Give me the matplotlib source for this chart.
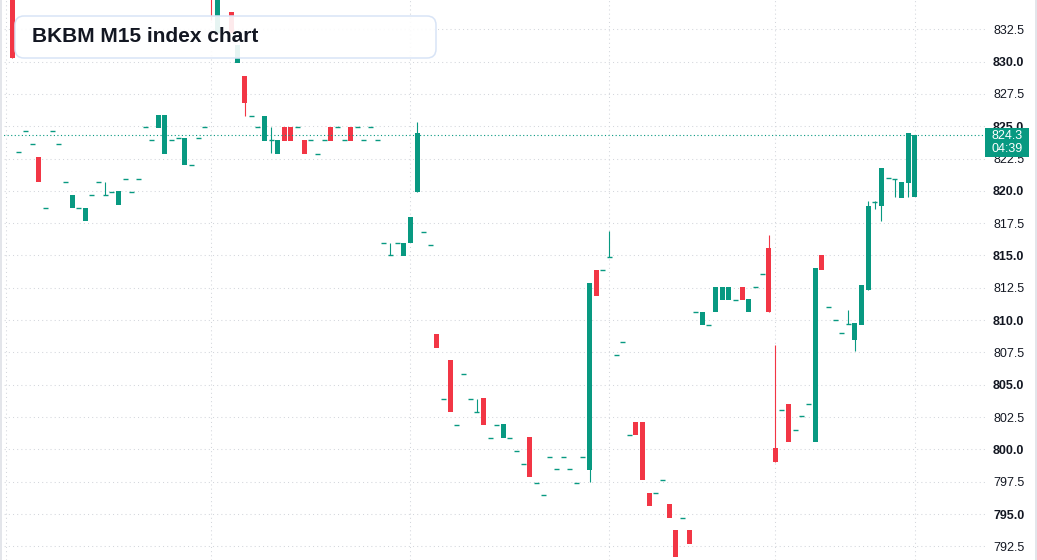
import matplotlib as mpl
mpl.use('Agg')
import matplotlib.pyplot as plt
import numpy as np
from matplotlib.patches import FancyBboxPatch, Rectangle
from matplotlib.transforms import IdentityTransform

# BKBM M15 candles (index 0 = leftmost bar)
opens = [836.0, 823.0, 824.65, 823.65, 822.65, 818.7, 824.65, 823.65, 820.7, 818.65,
         818.7, 817.65, 819.7, 820.7, 819.7, 819.9, 818.9, 820.95, 819.9, 820.95,
         824.9, 823.9, 824.85, 822.85, 823.9, 824.05, 822.0, 822.0, 824.05, 824.95,
         836.5, 832.2, 837.5, 833.8, 829.85, 828.85, 825.8, 824.9, 823.85, 823.9,
         822.85, 824.9, 824.9, 824.9, 823.9, 823.9, 822.85, 823.9, 824.9, 824.9,
         823.9, 824.9, 824.9, 823.9, 824.9, 823.9, 816.0, 815.0, 816.0, 814.95,
         815.95, 819.9, 816.85, 815.85, 808.9, 803.9, 806.9, 801.9, 805.85, 803.9,
         802.9, 803.95, 800.9, 801.9, 800.85, 800.9, 799.9, 798.9, 800.95, 797.4,
         796.5, 799.45, 798.45, 799.45, 798.45, 797.4, 799.45, 798.4, 813.9, 813.9,
         814.9, 807.3, 808.3, 801.15, 802.15, 802.15, 796.65, 796.65, 797.65, 795.75,
         793.75, 794.7, 793.75, 810.65, 809.6, 809.65, 810.6, 811.55, 811.55, 811.55,
         812.6, 810.6, 812.6, 813.6, 815.6, 800.15, 803.05, 803.55, 801.5, 802.55,
         803.55, 800.55, 815.0, 811.05, 810.05, 809.0, 809.7, 808.5, 809.6, 812.35,
         819.15, 818.8, 821.0, 820.95, 819.45, 820.6, 819.5]
closes = [830.3, 823.0, 824.65, 823.65, 820.65, 818.7, 824.65, 823.65, 820.7, 819.7,
          818.7, 818.7, 819.7, 820.7, 819.7, 819.9, 819.95, 820.95, 819.9, 820.95,
          824.9, 823.9, 825.9, 825.9, 823.9, 824.05, 824.05, 822.0, 824.05, 824.95,
          835.2, 836.8, 836.0, 832.2, 831.3, 826.8, 825.8, 824.9, 825.8, 823.9,
          823.9, 823.85, 823.85, 824.9, 822.85, 823.9, 822.85, 823.9, 823.85, 824.9,
          823.9, 823.85, 824.9, 823.9, 824.9, 823.9, 816.0, 815.0, 816.0, 816.0,
          817.95, 824.45, 816.85, 815.85, 807.85, 803.9, 802.9, 801.9, 805.85, 803.9,
          802.9, 801.9, 800.9, 801.9, 801.95, 800.9, 799.9, 798.9, 797.85, 797.4,
          796.5, 799.45, 798.45, 799.45, 798.45, 797.4, 799.45, 812.9, 811.85, 813.9,
          814.9, 807.3, 808.3, 801.15, 801.1, 797.6, 795.65, 796.65, 797.65, 794.7,
          791.65, 794.7, 792.7, 810.65, 810.65, 809.65, 812.6, 812.6, 812.6, 811.55,
          811.55, 811.6, 812.6, 813.6, 810.6, 799.05, 803.05, 800.55, 801.5, 802.55,
          803.55, 814.0, 813.9, 811.05, 810.05, 809.0, 809.7, 809.8, 812.75, 818.85,
          819.15, 821.8, 821.0, 820.95, 820.7, 824.5, 824.3]
# only the bars whose wicks stick out past the body
wickHigh = {0: 836.5, 14: 820.7, 30: 837.0, 31: 837.2, 32: 838.0, 39: 824.9, 57: 816.0,
            61: 825.35, 70: 803.9, 90: 816.9, 114: 816.6, 115: 808.1, 126: 810.75,
            129: 819.25, 130: 819.25}
wickLow = {30: 833.2, 32: 835.2, 35: 825.8, 39: 822.9, 87: 797.45, 127: 807.6,
           130: 818.6, 131: 817.65, 133: 819.5, 135: 819.55}
lastPrice = 824.3
countdown = '04:39'
sessionLines = [-1, 30, 60, 90, 115, 136]
priceTicks = np.arange(792.5, 835.0, 2.5)

up = '#089981'
down = '#f23645'
gridColor = '#d3d6dc'
textColor = '#131722'
font = 'Liberation Sans'

W, H = 1037, 560
fig = plt.figure(figsize=(W / 100, H / 100), dpi=100)
fig.patch.set_facecolor('white')
ax = fig.add_axes([0, 0, 985 / W, 1])
ax.set_xlim(-1.854, 146.6)
ax.set_ylim(791.45, 834.76)
for s in ax.spines.values():
    s.set_visible(False)
ax.set_xticks([])

for p in priceTicks:
    ax.axhline(p, color=gridColor, lw=0.75, linestyle=(0, (1, 3)), zorder=0)
for x in sessionLines:
    ax.axvline(x, color=gridColor, lw=0.75, linestyle=(0, (1, 3)), zorder=0)

bodyW = 0.754
for i, (o, c) in enumerate(zip(opens, closes)):
    col = up if c >= o else down
    hi = max(o, c, wickHigh.get(i, o))
    lo = min(o, c, wickLow.get(i, o))
    if hi > max(o, c) or lo < min(o, c):
        ax.vlines(i, lo, hi, color=col, lw=0.8, zorder=2)
    if abs(c - o) < 0.1:
        ax.hlines(o, i - bodyW / 2, i + bodyW / 2, color=col, lw=1.0, zorder=3)
    else:
        ax.bar(i, abs(c - o), bottom=min(o, c), width=bodyW, color=col,
               linewidth=0, zorder=3)

ax.axhline(lastPrice, color=up, lw=0.8, linestyle=(0, (1, 2.2)), zorder=4)

ax.yaxis.tick_right()
ax.set_yticks(priceTicks)
ax.set_yticklabels(['%.1f' % p for p in priceTicks])
ax.tick_params(axis='y', length=0, pad=5.8, labelsize=9, labelcolor=textColor)
for p, lab in zip(priceTicks, ax.get_yticklabels()):
    lab.set_fontfamily(font)
    if abs(p % 5) < 1e-6:
        lab.set_fontweight('bold')
ax.text(1 + 8 / 985, 835.0, '835.0', transform=ax.get_yaxis_transform(),
        ha='left', va='center', fontsize=9, fontweight='bold', color=textColor,
        family=font, clip_on=False)

ident = IdentityTransform()
# title card
box = FancyBboxPatch((15, H - 58), 421, 42, boxstyle='round,pad=0,rounding_size=9',
                     transform=ident, facecolor=(1, 1, 1, 0.9), edgecolor='#d8e4f6',
                     linewidth=1.1, zorder=5)
fig.patches.append(box)
fig.text(32, H - 37, 'BKBM M15 index chart', transform=ident, ha='left', va='center',
         fontsize=15, fontweight='bold', color=textColor, family=font, zorder=6)

# last price tag
tag = Rectangle((985, H - 157.3), 44, 29.6, transform=ident, facecolor=up,
                edgecolor='none', zorder=5)
fig.patches.append(tag)
fig.text(1007, H - 136, '%.1f' % lastPrice, transform=ident, ha='center', va='center',
         fontsize=9, color='white', family=font, zorder=6)
fig.text(1007, H - 149.5, countdown, transform=ident, ha='center', va='center',
         fontsize=9, color='white', family=font, zorder=6)

# thin frame at the sides
fig.patches.append(Rectangle((0, 0), 1.5, H, transform=ident, facecolor='#e3e5ea',
                             edgecolor='none', zorder=7))
fig.patches.append(Rectangle((1035, 0), 2, H, transform=ident, facecolor='#e3e5ea',
                             edgecolor='none', zorder=7))

plt.savefig('out.png', dpi=100)
